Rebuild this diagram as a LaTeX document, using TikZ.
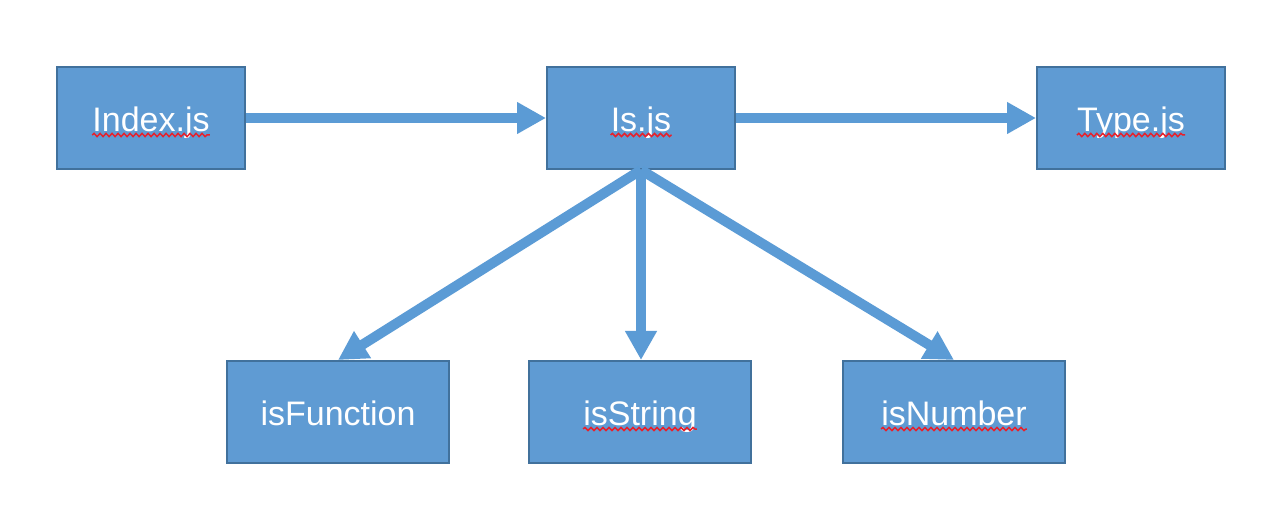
\documentclass[tikz,border=0pt]{standalone}
\usepackage{fontspec}
\setmainfont{Liberation Sans}
\usetikzlibrary{arrows.meta,decorations.pathmorphing}
\definecolor{boxfill}{HTML}{5F9BD3}
\definecolor{boxline}{HTML}{41719C}
\definecolor{arrowc}{HTML}{5B9BD5}
\definecolor{wavy}{HTML}{E8202A}
\tikzset{
  box/.style={draw=boxline, line width=2pt, fill=boxfill, minimum height=102pt, inner sep=0pt},
  topbox/.style={box, minimum width=188pt},
  botbox/.style={box, minimum width=222pt},
  lbl/.style={text=white, font=\fontsize{34}{40}\selectfont, inner sep=0pt, anchor=base},
  conn/.style={draw=arrowc, line width=10pt, -{Triangle[width=30pt,length=29pt]}},
  spell/.style={draw=wavy, line width=1.5pt, decorate, decoration={snake, segment length=6pt, amplitude=1.6pt}}
}
\begin{document}
\begin{tikzpicture}[x=1pt,y=-1pt]
\useasboundingbox (0,0) rectangle (1266,518);
\node[topbox] (idx) at (151,118) {};
\node[topbox] (is) at (641,118) {};
\node[topbox] (typ) at (1131,118) {};
\node[botbox] (fn) at (338,412) {};
\node[botbox] (str) at (640,412) {};
\node[botbox] (num) at (954,412) {};
\node[lbl] (idxt) at ([yshift=-13.5pt]idx.center) {Index.js};
\node[lbl] (ist) at ([yshift=-13.5pt]is.center) {Is.js};
\node[lbl] (typt) at ([yshift=-13.5pt]typ.center) {Type.js};
\node[lbl] (fnt) at ([yshift=-13.5pt]fn.center) {isFunction};
\node[lbl] (strt) at ([yshift=-13.5pt]str.center) {isString};
\node[lbl] (numt) at ([yshift=-13.5pt]num.center) {isNumber};
\foreach \t in {idxt,ist,typt,strt,numt}{
  \draw[spell] ([yshift=-3.5pt]\t.base west) -- ([yshift=-3.5pt]\t.base east);
}
\draw[conn] (idx.east) -- (is.west);
\draw[conn] (is.east) -- (typ.west);
\draw[conn] (is.south) -- (fn.north);
\draw[conn] (is.south) -- (str.north -| is.south);
\draw[conn] (is.south) -- (num.north);
\end{tikzpicture}
\end{document}
